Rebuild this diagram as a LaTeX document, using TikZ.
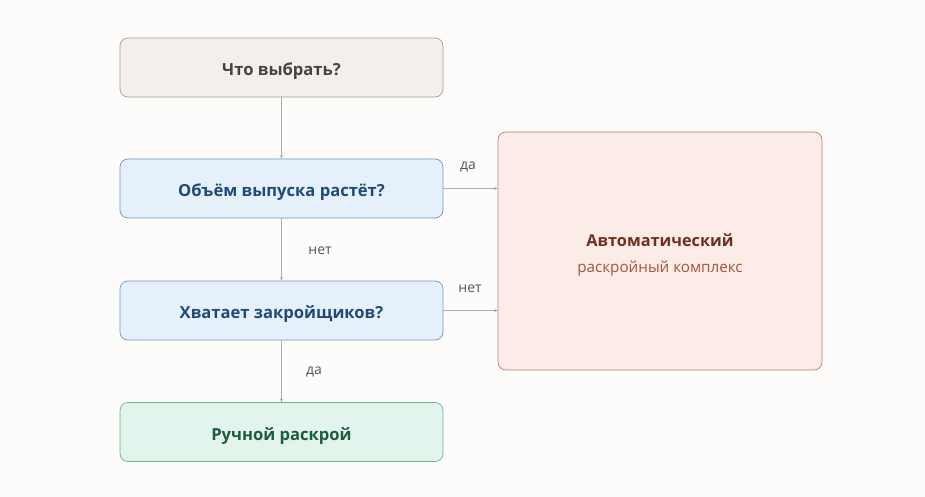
\documentclass[tikz,border=0pt]{standalone}
\usepackage{fontspec}
\setmainfont{Open Sans}
\usetikzlibrary{arrows.meta}
\definecolor{bgc}{HTML}{FDFCFB}
\definecolor{startfill}{HTML}{F3F0EB}
\definecolor{startdraw}{HTML}{A19C96}
\definecolor{starttext}{HTML}{444444}
\definecolor{qfill}{HTML}{E6F0FB}
\definecolor{qdraw}{HTML}{7198C4}
\definecolor{qtext}{HTML}{1F4A78}
\definecolor{gfill}{HTML}{E2F4EC}
\definecolor{gdraw}{HTML}{6DB093}
\definecolor{gtext}{HTML}{1D5B42}
\definecolor{rfill}{HTML}{FBECE7}
\definecolor{rdraw}{HTML}{C27D6E}
\definecolor{rtext}{HTML}{6E2F1F}
\definecolor{rsub}{HTML}{A5533E}
\definecolor{linec}{HTML}{ABABAB}
\definecolor{labc}{HTML}{555555}
\tikzset{
  x=1pt,y=-1pt,
  boxs/.style={rectangle,rounded corners=8pt,line width=0.7pt,minimum width=323pt,minimum height=59pt,inner sep=0pt,text height=16pt,text depth=0pt,font=\fontsize{16.6}{19}\selectfont\bfseries},
  conn/.style={draw=linec,line width=0.7pt,-{Stealth[length=3.5pt,width=3pt]}},
  lab/.style={font=\fontsize{14}{16}\selectfont,text=labc,inner sep=0pt}
}
\begin{document}
\begin{tikzpicture}
\fill[bgc] (0,0) rectangle (925,497);
\useasboundingbox (0,0) rectangle (925,497);
\node[boxs,fill=startfill,draw=startdraw,text=starttext] (start) at (281.5,67.5) {Что выбрать?};
\node[boxs,fill=qfill,draw=qdraw,text=qtext] (q1) at (281.5,188.5) {Объём выпуска растёт?};
\node[boxs,fill=qfill,draw=qdraw,text=qtext] (q2) at (281.5,310.5) {Хватает закройщиков?};
\node[boxs,fill=gfill,draw=gdraw,text=gtext] (manual) at (281.5,432) {Ручной раскрой};
\node[rectangle,rounded corners=8pt,line width=0.7pt,fill=rfill,draw=rdraw,minimum width=324pt,minimum height=238pt] (auto) at (660,251) {};
\node[font=\fontsize{16.3}{19}\selectfont\bfseries,text=rtext,inner sep=0pt] (autot) at (660,240.5) {Автоматический};
\node[font=\fontsize{15.2}{18}\selectfont,text=rsub,inner sep=0pt] (autos) at (660,268.5) {раскройный комплекс};
\draw[conn] (start.south) -- (q1.north);
\draw[conn] (q1.south) -- (q2.north);
\draw[conn] (q2.south) -- (manual.north);
\draw[conn] (q1.east) -- (q1.east -| auto.west);
\draw[conn] (q2.east) -- (q2.east -| auto.west);
\node[lab] (l1) at (320,251) {нет};
\node[lab] (l2) at (314,372) {да};
\node[lab] (l3) at (468,167) {да};
\node[lab] (l4) at (470,289) {нет};
\end{tikzpicture}
\end{document}
